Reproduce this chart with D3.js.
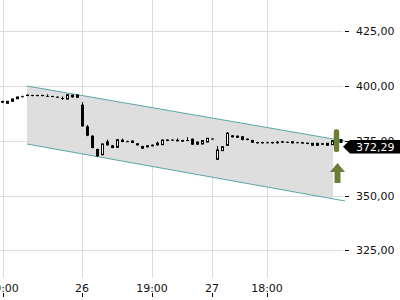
<!DOCTYPE html>
<html><head><meta charset="utf-8">
<script src="https://cdn.jsdelivr.net/npm/d3@7/dist/d3.min.js"></script>
<style>html,body{margin:0;padding:0;background:#fff}svg{display:block}</style>
</head><body><svg id="c" width="400" height="300"></svg>
<script>
// ---- data ----
const opens  = [393.15,392.10,393.01,394.20,395.30,396.03,395.89,395.90,395.90,395.50,395.43,395.11,394.52,394.06,396.03,394.84,
  391.46,381.60,377.31,371.23,368.63,374.75,372.92,372.01,375.48,374.80,375.07,373.84,372.60,372.92,373.20,374.11,373.20,375.53,
  375.53,375.44,375.34,375.30,375.94,374.61,373.52,374.43,376.00,366.53,370.50,372.92,377.49,377.31,377.03,375.94,375.34,374.43,
  374.43,374.30,374.43,374.61,374.75,374.50,374.75,374.30,374.43,374.11,372.92,372.92,373.84,372.92,373.20];
const closes = [392.37,393.01,394.06,394.98,395.20,395.43,395.43,395.40,395.40,395.30,394.98,394.66,394.06,396.03,394.84,395.89,
  381.60,377.31,371.69,367.90,373.52,372.92,371.69,375.48,374.43,374.60,373.97,372.92,371.37,372.01,372.47,372.92,375.34,374.89,
  375.07,374.75,374.61,375.10,373.20,373.20,375.07,376.12,375.80,370.78,372.28,378.40,376.58,376.39,375.34,375.34,374.11,373.84,
  373.84,374.10,373.84,373.84,374.11,374.30,373.84,374.10,373.74,373.52,373.84,373.84,373.20,373.84,375.07];
const highs  = [393.30,393.20,394.20,395.10,395.60,396.20,396.00,396.00,396.00,396.20,395.50,395.20,395.20,396.20,396.10,396.00,
  392.60,382.20,377.50,371.40,373.70,375.50,373.00,375.60,376.00,375.00,375.20,373.90,372.70,373.00,373.30,374.60,375.40,375.60,
  375.60,376.10,375.40,376.60,376.00,374.70,375.20,376.20,376.10,372.60,372.40,379.00,377.60,377.40,377.10,376.00,375.40,374.50,
  374.50,374.60,374.50,374.70,374.80,374.70,374.80,374.50,374.50,374.20,373.90,373.90,373.90,373.90,375.20];
const lows   = [392.20,391.90,392.90,394.10,395.00,395.30,395.30,395.30,395.30,395.20,394.90,394.60,393.70,393.90,394.70,394.70,
  381.40,377.10,371.50,367.60,368.40,372.80,371.60,371.90,374.30,374.40,373.90,372.80,371.30,371.90,372.40,372.80,373.10,374.80,
  375.00,374.70,374.50,375.00,373.10,373.10,373.40,374.30,375.70,366.20,370.40,372.80,376.50,376.30,375.20,375.20,374.00,373.70,
  373.70,373.90,373.70,373.70,374.00,374.20,373.70,374.00,373.60,373.40,372.80,372.80,373.10,372.80,373.10];
const xTickIdx    = [0.2, 16, 30, 42, 53];
const xTickLabels = ["19:00", "26", "19:00", "27", "18:00"];
const yTicks      = [325, 350, 375, 400, 425];
const channelIdx   = [5, 68.6];
const channelUpper = [400, 374.89];
const channelLower = [373.5, 347.5];
const channelFillEnd = 66.2;
const signalIdx = 66.9, signalHigh = 380.2, signalLow = 369.9;
const arrowTop = 364.8, arrowBottom = 355.7;
const markerIdx = 67.8, markerHigh = 375.8, markerLow = 374.0;
const lastPrice = 372.29, lastPriceLabel = "372,29";

// ---- scales ----
const svg = d3.select("#c");
const x = d3.scaleLinear().domain([0, 53]).range([2, 267]);
const y = d3.scaleLinear().domain([325, 425]).range([250.25, 31.25]);
const fmt = v => d3.format(".2f")(v).replace(".", ",");
const font = "DejaVu Sans, sans-serif";

// grid
svg.append("g").selectAll("line").data(yTicks).join("line")
  .attr("x1", 0).attr("x2", 343).attr("y1", d => Math.round(y(d)) + 0.5).attr("y2", d => Math.round(y(d)) + 0.5)
  .attr("stroke", "#dcdcdc").attr("stroke-width", 1);
svg.append("g").selectAll("line").data(xTickIdx).join("line")
  .attr("x1", d => Math.round(x(d)) + 0.5).attr("x2", d => Math.round(x(d)) + 0.5).attr("y1", 0).attr("y2", 278)
  .attr("stroke", "#dcdcdc").attr("stroke-width", 1);

// channel
const lerp = (arr, i) => arr[0] + (arr[1] - arr[0]) * (i - channelIdx[0]) / (channelIdx[1] - channelIdx[0]);
const poly = [[channelIdx[0], lerp(channelUpper, channelIdx[0])], [channelFillEnd, lerp(channelUpper, channelFillEnd)],
  [channelFillEnd, lerp(channelLower, channelFillEnd)], [channelIdx[0], lerp(channelLower, channelIdx[0])]];
svg.append("path").attr("d", "M" + poly.map(p => [x(p[0]), y(p[1])].join(",")).join("L") + "Z")
  .attr("fill", "#dedede");
[channelUpper, channelLower].forEach(arr => {
  svg.append("line").attr("x1", x(channelIdx[0])).attr("y1", y(arr[0])).attr("x2", x(channelIdx[1])).attr("y2", y(arr[1]))
    .attr("stroke", "#5fa7aa").attr("stroke-width", 1.1);
});

// candles
const candles = opens.map((o, i) => ({i, o, c: closes[i], h: highs[i], l: lows[i]}));
const cg = svg.append("g");
candles.forEach(d => {
  const cx = Math.round(x(d.i));
  cg.append("line").attr("x1", cx + 0.5).attr("x2", cx + 0.5).attr("y1", y(d.h)).attr("y2", y(d.l))
    .attr("stroke", "#000").attr("stroke-width", 1);
  const top = y(Math.max(d.o, d.c)), bot = y(Math.min(d.o, d.c));
  const hgt = Math.max(1, bot - top);
  if (d.c >= d.o && bot - top > 1.5) {
    cg.append("rect").attr("x", cx - 0.5).attr("y", top).attr("width", 2).attr("height", hgt)
      .attr("fill", "#fff").attr("stroke", "#000").attr("stroke-width", 1);
  } else {
    cg.append("rect").attr("x", cx - 1).attr("y", top).attr("width", 3).attr("height", hgt).attr("fill", "#000");
  }
});

// y axis labels
const ya = svg.append("g");
yTicks.forEach(v => {
  const yy = Math.round(y(v)) + 0.5;
  ya.append("line").attr("x1", 345).attr("x2", 349).attr("y1", yy).attr("y2", yy).attr("stroke", "#000");
  ya.append("text").attr("x", 356).attr("y", y(v) + 4).attr("font-family", font).attr("font-size", 11)
    .attr("fill", "#111").text(fmt(v));
});
// x axis labels
const xa = svg.append("g");
xTickIdx.forEach((v, k) => {
  const xx = Math.round(x(v)) + 0.5;
  xa.append("line").attr("x1", xx).attr("x2", xx).attr("y1", 293).attr("y2", 297).attr("stroke", "#000");
  xa.append("text").attr("x", x(v)).attr("y", 291.5).attr("text-anchor", "middle").attr("font-family", font)
    .attr("font-size", 11).attr("fill", "#111").text(xTickLabels[k]);
});

// signal bar and arrow
const olive = "#6b7e36";
svg.append("rect").attr("x", x(signalIdx) - 2.7).attr("y", y(signalHigh)).attr("width", 5.4)
  .attr("height", y(signalLow) - y(signalHigh)).attr("rx", 2.2).attr("fill", olive);
const ax = x(signalIdx) + 1, at = y(arrowTop), ab = y(arrowBottom), ah = 9;
svg.append("path").attr("d", `M${ax},${at} L${ax + 7.5},${at + ah} L${ax + 3},${at + ah} L${ax + 3},${ab} L${ax - 3},${ab} L${ax - 3},${at + ah} L${ax - 7.5},${at + ah} Z`)
  .attr("fill", olive);
// marker
svg.append("rect").attr("x", x(markerIdx) - 1.5).attr("y", y(markerHigh)).attr("width", 3)
  .attr("height", y(markerLow) - y(markerHigh)).attr("fill", "#000");

// last price label
const ly = y(lastPrice);
svg.append("path").attr("d", `M343,${ly} L350,${ly - 6.7} L400,${ly - 6.7} L400,${ly + 6.7} L350,${ly + 6.7} Z`).attr("fill", "#000");
svg.append("text").attr("x", 356).attr("y", ly + 4).attr("font-family", font).attr("font-size", 11)
  .attr("fill", "#fff").text(lastPriceLabel);
</script></body></html>
